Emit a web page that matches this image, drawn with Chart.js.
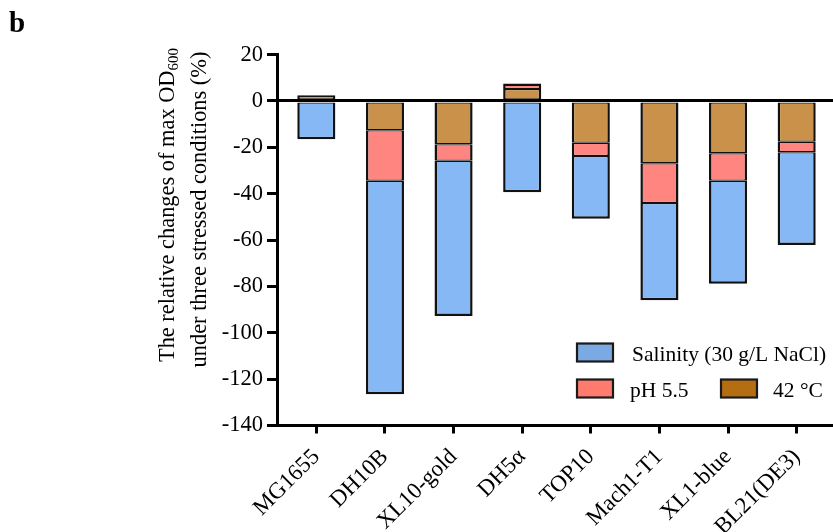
<!DOCTYPE html>
<html>
<head>
<meta charset="utf-8">
<script src="https://cdn.jsdelivr.net/npm/chart.js@4/dist/chart.umd.min.js"></script>
<style>
  html, body { margin: 0; padding: 0; background: #fff; }
  #wrap { width: 833px; height: 532px; overflow: hidden; position: relative; }
  canvas { display: block; }
</style>
</head>
<body>
<div id="wrap"><canvas id="c" width="836" height="532"></canvas></div>
<script>
// ---- data ----
const categories = ['MG1655', 'DH10B', 'XL10-gold', 'DH5α', 'TOP10', 'Mach1-T1', 'XL1-blue', 'BL21(DE3)'];
const heat42   = [2.5, -12.6, -18.7, 5.2, -18.0, -26.9, -22.6, -17.6];
const ph55     = [null, -21.8, -7.1, 2.3, -5.7, -17.1, -11.8, -4.5];
const salinity = [-16.5, -92.1, -67.0, -39.4, -27.1, -42.0, -44.5, -40.0];
const yTicks = [20, 0, -20, -40, -60, -80, -100, -120, -140];
const seriesNames = ['Salinity (30 g/L NaCl)', 'pH 5.5', '42 °C'];
const yTitle1 = 'The relative changes of max OD';
const yTitle1Sub = '600';
const yTitle2 = 'under three stressed conditions (%)';
const panelLetter = 'b';

const SERIF = '"Liberation Serif", "Times New Roman", serif';
const stackOrder = [heat42, ph55, salinity];

function borderFor(d) {
  return ctx => {
    const i = ctx.dataIndex;
    const v = stackOrder[d][i];
    if (v == null) return 0;
    const s = Math.sign(v);
    let covered = false;
    for (let k = d + 1; k < stackOrder.length; k++) {
      const w = stackOrder[k][i];
      if (w != null && Math.sign(w) === s) covered = true;
    }
    const far = covered ? 1.25 : 2.5;
    return s < 0 ? { top: 1.25, bottom: far, left: 2.5, right: 2.5 }
                 : { top: far, bottom: 1.25, left: 2.5, right: 2.5 };
  };
}

const toXY = arr => arr.map((v, i) => ({ x: i, y: v }));

const extras = {
  id: 'extras',
  afterDraw(chart) {
    const ctx = chart.ctx;
    ctx.save();
    ctx.fillStyle = '#000';
    ctx.font = 'bold 29px ' + SERIF;
    ctx.textBaseline = 'alphabetic';
    ctx.textAlign = 'left';
    ctx.fillText(panelLetter, 9, 32);

    ctx.save();
    ctx.translate(174, 205);
    ctx.rotate(-Math.PI / 2);
    ctx.font = '22.4px ' + SERIF;
    const w1 = ctx.measureText(yTitle1).width;
    ctx.font = '15px ' + SERIF;
    const ws = ctx.measureText(yTitle1Sub).width;
    const x0 = -(w1 + ws) / 2;
    ctx.font = '22.4px ' + SERIF;
    ctx.fillText(yTitle1, x0, 0);
    ctx.font = '15px ' + SERIF;
    ctx.fillText(yTitle1Sub, x0 + w1, 4);
    ctx.restore();

    ctx.save();
    ctx.translate(206, 209.5);
    ctx.rotate(-Math.PI / 2);
    ctx.font = '22.4px ' + SERIF;
    ctx.textAlign = 'center';
    ctx.fillText(yTitle2, 0, 0);
    ctx.restore();

    const sw = [
      { x: 577, y: 343.5, fill: '#7BA9E1', tx: 632, ty: 361, label: seriesNames[0] },
      { x: 577, y: 379.5, fill: '#FF7B6E', tx: 630, ty: 397, label: seriesNames[1] },
      { x: 721, y: 379.5, fill: '#B46D10', tx: 773, ty: 397, label: seriesNames[2] }
    ];
    ctx.font = '21.5px ' + SERIF;
    ctx.lineWidth = 2.2;
    ctx.strokeStyle = '#1a1a1a';
    sw.forEach(s => {
      ctx.fillStyle = s.fill;
      ctx.fillRect(s.x, s.y, 36, 18);
      ctx.strokeRect(s.x, s.y, 36, 18);
      ctx.fillStyle = '#000';
      ctx.fillText(s.label, s.tx, s.ty);
    });
    ctx.restore();
  }
};

const barCommon = {
  borderColor: '#111',
  borderSkipped: false,
  categoryPercentage: 1.0,
  barPercentage: 0.555,
  stack: 's'
};

new Chart(document.getElementById('c'), {
  type: 'bar',
  data: {
    datasets: [
      Object.assign({ label: seriesNames[2], data: toXY(heat42), backgroundColor: '#C9914A', borderWidth: borderFor(0) }, barCommon),
      Object.assign({ label: seriesNames[1], data: toXY(ph55), backgroundColor: '#FF8580', borderWidth: borderFor(1) }, barCommon),
      Object.assign({ label: seriesNames[0], data: toXY(salinity), backgroundColor: '#86B8F5', borderWidth: borderFor(2) }, barCommon)
    ]
  },
  options: {
    responsive: false,
    animation: false,
    devicePixelRatio: 1,
    layout: { padding: { top: 54.6, right: 0, bottom: 0, left: 0 } },
    plugins: { legend: { display: false }, tooltip: { enabled: false } },
    scales: {
      x: {
        type: 'linear',
        stacked: true,
        offset: false,
        min: -0.573, max: 7.573,
        border: { display: true, color: '#000', width: 3 },
        grid: { display: true, offset: false, drawOnChartArea: false, color: '#000', tickLength: 8, tickWidth: 3, lineWidth: 3 },
        ticks: {
          stepSize: 1, includeBounds: false, autoSkip: false,
          color: '#000', font: { family: SERIF, size: 23 },
          minRotation: 45, maxRotation: 45, padding: 10,
          callback: v => (Number.isInteger(v) && categories[v] !== undefined) ? categories[v] : ''
        },
        afterFit(s) { s.height = 106.5; }
      },
      y: {
        stacked: true,
        min: -140, max: 20,
        z: 1,
        border: { display: true, color: '#000', width: 3 },
        grid: {
          drawOnChartArea: true,
          color: c => (c.tick && c.tick.value === 0) ? '#000' : 'rgba(0,0,0,0)',
          lineWidth: 3,
          tickColor: '#000', tickLength: 10, tickWidth: 3
        },
        afterBuildTicks(s) { s.ticks = yTicks.map(v => ({ value: v })); },
        ticks: { color: '#000', font: { family: SERIF, size: 22.5 }, padding: 4 },
        afterFit(s) { s.width = 277; }
      }
    }
  },
  plugins: [extras]
});
</script>
</body>
</html>
